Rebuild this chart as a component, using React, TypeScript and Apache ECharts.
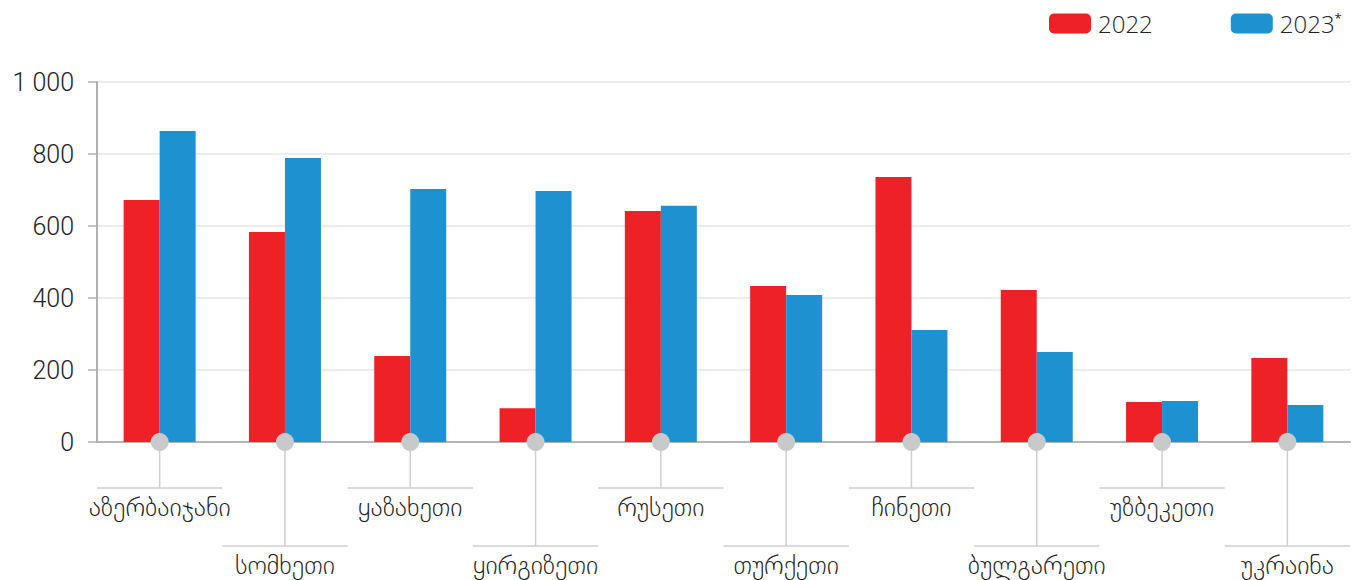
import React, { useEffect, useRef } from "react";
import * as echarts from "echarts";

const categories = [
  "აზერბაიჯანი",
  "სომხეთი",
  "ყაზახეთი",
  "ყირგიზეთი",
  "რუსეთი",
  "თურქეთი",
  "ჩინეთი",
  "ბულგარეთი",
  "უზბეკეთი",
  "უკრაინა",
];
const values2022 = [672, 583, 239, 94, 642, 433, 736, 422, 111, 233];
const values2023 = [864, 789, 703, 697, 656, 408, 311, 250, 114, 103];
const yTicks = { min: 0, max: 1000, interval: 200 };

const RED = "#ed2126";
const BLUE = "#1e92d0";
const NUM_FONT = "Roboto";
const GEO_FONT = "DejaVu Sans";

export default function App() {
  const ref = useRef<HTMLDivElement>(null);
  useEffect(() => {
    document.body.style.margin = "0";
    const chart = echarts.init(ref.current!, null, { renderer: "svg" });
    chart.setOption({
      animation: false,
      legend: {
        left: 1049,
        top: 11,
        padding: 0,
        itemWidth: 42,
        itemHeight: 20,
        itemGap: 78,
        icon: "roundRect",
        selectedMode: false,
        data: ["2022", "2023"],
        formatter: (n: string) => (n === "2023" ? "{a|2023}{s|*}" : "{a|" + n + "}"),
        textStyle: {
          rich: {
            a: { fontFamily: "Open Sans", fontWeight: 300, fontSize: 24, color: "#222", padding: [0, 0, 0, 2] },
            s: { fontFamily: "Open Sans", fontSize: 13, color: "#222", verticalAlign: "top", padding: [0, 0, 12, 0] },
          },
        },
      },
      grid: { left: 97, right: 3, top: 82, bottom: 138 },
      xAxis: {
        type: "category",
        data: categories,
        axisLine: { show: true, lineStyle: { color: "#b5b5b5", width: 2 } },
        axisTick: { show: false },
        axisLabel: { show: false },
      },
      yAxis: {
        type: "value",
        min: yTicks.min,
        max: yTicks.max,
        interval: yTicks.interval,
        axisLine: { show: true, lineStyle: { color: "#b0b0b0", width: 2 } },
        axisTick: { show: true, length: 9, lineStyle: { color: "#b0b0b0", width: 1.5 } },
        splitLine: { lineStyle: { color: "#e6e6e6", width: 1.5 } },
        axisLabel: {
          margin: 23,
          fontFamily: NUM_FONT,
          fontWeight: 300,
          fontSize: 25,
          color: "#222",
          formatter: (v: number) => String(v).replace(/\B(?=(\d{3})+(?!\d))/g, " "),
        },
      },
      series: [
        {
          name: "2022",
          type: "bar",
          data: values2022,
          barWidth: 36,
          barGap: "0%",
          itemStyle: { color: RED },
        },
        {
          name: "2023",
          type: "bar",
          data: values2023,
          barWidth: 36,
          barGap: "0%",
          itemStyle: { color: BLUE },
        },
        {
          type: "custom",
          clip: false,
          z: 10,
          silent: true,
          data: categories.map((_, i) => [i, 0]),
          encode: { x: 0, y: 1 },
          renderItem: (params: any, api: any) => {
            const idx = api.value(0);
            const p = api.coord([idx, 0]);
            const band = api.size([1, 0])[0];
            const level = idx % 2;
            const lineY = p[1] + 46 + level * 58;
            const lc = "#cfcfcf";
            return {
              type: "group",
              children: [
                {
                  type: "line",
                  shape: { x1: p[0], y1: p[1], x2: p[0], y2: lineY },
                  style: { stroke: lc, lineWidth: 1.5 },
                },
                {
                  type: "line",
                  shape: { x1: p[0] - band / 2, y1: lineY, x2: p[0] + band / 2, y2: lineY },
                  style: { stroke: lc, lineWidth: 1.5 },
                },
                {
                  type: "circle",
                  shape: { cx: p[0], cy: p[1], r: 9 },
                  style: { fill: "#c8c9ca" },
                },
                {
                  type: "text",
                  x: p[0],
                  y: lineY + 19,
                  style: {
                    text: categories[idx],
                    fontFamily: GEO_FONT,
                    fontWeight: 200,
                    fontSize: 26,
                    fill: "#222",
                    align: "center",
                    verticalAlign: "middle",
                  },
                },
              ],
            };
          },
        },
      ],
    });
    return () => chart.dispose();
  }, []);
  return <div ref={ref} style={{ width: 1353, height: 580 }} />;
}
